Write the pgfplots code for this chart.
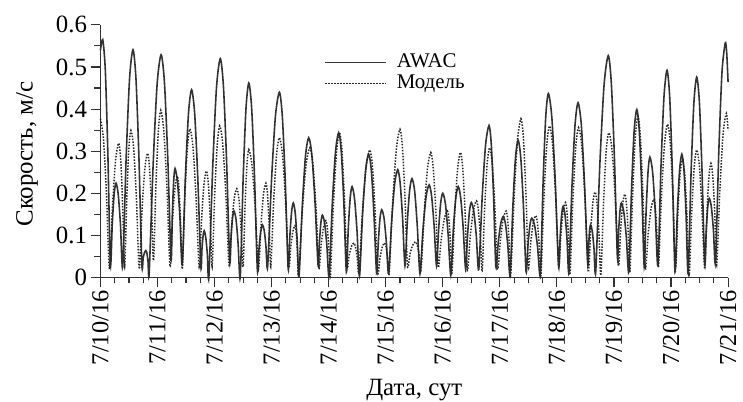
\documentclass[border=0pt]{standalone}
\usepackage{pgfplots}
\pgfplotsset{compat=1.18}
\usepackage{fontspec}
\setmainfont{Liberation Serif}
\definecolor{lc}{HTML}{333333}
\newcommand{\lf}{\fontsize{21}{23}\selectfont}
\begin{document}
\begin{tikzpicture}
\useasboundingbox (0,0) rectangle (747pt,404pt);
\begin{axis}[
  at={(101pt,125pt)}, anchor=south west,
  scale only axis, width=631pt, height=254pt,
  xmin=0, xmax=11, ymin=0, ymax=0.6,
  axis lines=left, axis line style={-, line width=1.3pt, color=lc},
  clip=false,
  /pgf/number format/assume math mode=true,
  xtick={0,1,2,3,4,5,6,7,8,9,10,11},
  xticklabels={7/10/16,7/11/16,7/12/16,7/13/16,7/14/16,7/15/16,7/16/16,7/17/16,7/18/16,7/19/16,7/20/16,7/21/16},
  minor x tick num=3,
  ytick={0,0.1,0.2,0.3,0.4,0.5,0.6},
  yticklabels={0,0.1,0.2,0.3,0.4,0.5,0.6},
  minor y tick num=1,
  tick align=outside,
  major tick length=10pt, minor tick length=6pt,
  every tick/.style={line width=1.1pt, color=lc},
  xticklabel style={font=\fontsize{24.5}{27}\selectfont, rotate=90, anchor=east, inner xsep=3pt, inner ysep=0.5pt},
  yticklabel style={font=\fontsize{25}{28}\selectfont},
  xlabel={Дата, сут},
  ylabel={Скорость, м/с},
  label style={font=\fontsize{25}{28}\selectfont},
  x label style={at={(axis description cs:0.5,-0.447)}, anchor=center},
  y label style={at={(axis description cs:-0.117,0.488)}, anchor=center, rotate=0},
  legend style={at={(axis description cs:0.352,0.895)}, anchor=north west, draw=none, fill=none,
    row sep=3pt,
    nodes={inner ysep=0pt, text height=14pt, text depth=4pt},
    /tikz/every odd column/.append style={column sep=8pt}},
  legend cell align=left,
  legend image code/.code={\draw[#1] (0pt,0pt) -- (61pt,0pt);},
]
\addplot[color=lc, line width=1.6pt, smooth, tension=0.45] table {
0 0.54
0.04 0.565
0.085 0.493
0.129 0.298
0.174 0.03
0.207 0.127
0.240 0.198
0.273 0.224
0.312 0.197
0.351 0.125
0.39 0.025
0.45 0.283
0.51 0.472
0.57 0.541
0.622 0.473
0.674 0.286
0.726 0.03
0.749 0.047
0.772 0.059
0.795 0.064
0.815 0.057
0.834 0.037
0.854 0.01
0.924 0.27
0.993 0.459
1.063 0.529
1.121 0.464
1.179 0.287
1.237 0.044
1.26 0.152
1.284 0.230
1.307 0.259
1.349 0.228
1.392 0.145
1.434 0.03
1.488 0.238
1.543 0.39
1.597 0.446
1.651 0.39
1.706 0.236
1.76 0.025
1.779 0.068
1.799 0.099
1.818 0.111
1.845 0.096
1.873 0.056
1.9 0.0
1.967 0.26
2.033 0.45
2.10 0.52
2.155 0.455
2.21 0.279
2.265 0.038
2.29 0.098
2.315 0.142
2.34 0.158
2.377 0.137
2.413 0.079
2.45 0.0
2.5 0.231
2.55 0.40
2.60 0.462
2.65 0.402
2.70 0.24
2.75 0.017
2.78 0.071
2.81 0.11
2.84 0.125
2.87 0.112
2.90 0.075
2.93 0.025
2.999 0.233
3.067 0.384
3.136 0.44
3.187 0.384
3.239 0.23
3.29 0.02
3.32 0.099
3.35 0.156
3.38 0.177
3.413 0.154
3.447 0.09
3.48 0.003
3.537 0.168
3.593 0.288
3.65 0.332
3.705 0.291
3.76 0.18
3.815 0.028
3.84 0.088
3.865 0.132
3.89 0.148
3.929 0.129
3.968 0.076
4.007 0.003
4.063 0.174
4.119 0.298
4.175 0.344
4.22 0.30
4.265 0.179
4.31 0.013
4.343 0.115
4.377 0.189
4.41 0.216
4.453 0.187
4.497 0.11
4.54 0.003
4.593 0.148
4.647 0.254
4.70 0.293
4.747 0.255
4.793 0.151
4.84 0.009
4.87 0.085
4.90 0.141
4.93 0.161
4.97 0.141
5.01 0.085
5.05 0.009
5.103 0.133
5.157 0.223
5.21 0.256
5.252 0.225
5.295 0.142
5.337 0.028
5.378 0.132
5.419 0.207
5.46 0.235
5.507 0.205
5.553 0.122
5.60 0.009
5.653 0.115
5.707 0.192
5.76 0.22
5.803 0.194
5.847 0.124
5.89 0.028
5.927 0.114
5.963 0.177
6.0 0.20
6.047 0.174
6.093 0.103
6.14 0.005
6.183 0.111
6.227 0.188
6.27 0.216
6.313 0.19
6.357 0.118
6.40 0.02
6.433 0.099
6.467 0.157
6.50 0.178
6.543 0.157
6.587 0.099
6.63 0.019
6.69 0.19
6.75 0.315
6.81 0.361
6.85 0.316
6.89 0.193
6.93 0.025
6.973 0.085
7.017 0.129
7.06 0.145
7.10 0.126
7.14 0.075
7.18 0.005
7.227 0.166
7.273 0.283
7.32 0.326
7.367 0.284
7.413 0.17
7.46 0.013
7.493 0.077
7.527 0.124
7.56 0.141
7.61 0.123
7.66 0.074
7.71 0.006
7.757 0.222
7.803 0.379
7.85 0.437
7.91 0.382
7.97 0.231
8.03 0.025
8.057 0.097
8.083 0.15
8.11 0.169
8.143 0.148
8.177 0.091
8.21 0.013
8.263 0.214
8.317 0.361
8.37 0.415
8.427 0.364
8.483 0.224
8.54 0.032
8.557 0.079
8.573 0.113
8.59 0.125
8.62 0.11
8.65 0.069
8.68 0.013
8.753 0.27
8.827 0.458
8.90 0.527
8.953 0.463
9.007 0.288
9.06 0.048
9.083 0.113
9.107 0.16
9.13 0.177
9.173 0.155
9.217 0.095
9.26 0.013
9.307 0.206
9.353 0.347
9.40 0.399
9.443 0.349
9.487 0.212
9.53 0.025
9.563 0.156
9.597 0.251
9.63 0.286
9.677 0.251
9.723 0.157
9.77 0.028
9.823 0.26
9.877 0.43
9.93 0.492
9.977 0.428
10.023 0.253
10.07 0.013
10.11 0.153
10.15 0.255
10.19 0.293
10.227 0.255
10.263 0.151
10.30 0.009
10.35 0.243
10.40 0.413
10.45 0.476
10.497 0.417
10.543 0.254
10.59 0.032
10.617 0.11
10.643 0.167
10.67 0.188
10.707 0.168
10.743 0.112
10.78 0.036
10.837 0.297
10.893 0.487
10.95 0.557
10.975 0.535
11.0 0.464
};
\addlegendentry{\lf AWAC}
\addplot[color=black!85, line width=1.5pt, dash pattern=on 1.5pt off 1.5pt, smooth, tension=0.45] table {
0 0.377
0.052 0.33
0.105 0.20
0.157 0.02
0.211 0.17
0.266 0.279
0.32 0.319
0.355 0.28
0.389 0.172
0.424 0.025
0.461 0.187
0.497 0.306
0.534 0.349
0.583 0.305
0.631 0.185
0.68 0.02
0.728 0.158
0.777 0.258
0.825 0.295
0.86 0.261
0.895 0.168
0.93 0.04
0.972 0.219
1.015 0.349
1.057 0.397
1.111 0.347
1.166 0.211
1.22 0.025
1.262 0.133
1.305 0.212
1.347 0.241
1.376 0.211
1.405 0.13
1.434 0.02
1.479 0.187
1.523 0.308
1.568 0.353
1.622 0.309
1.676 0.189
1.73 0.025
1.773 0.139
1.815 0.222
1.858 0.253
1.891 0.222
1.924 0.139
1.957 0.025
2.001 0.193
2.046 0.315
2.09 0.36
2.144 0.316
2.199 0.195
2.253 0.029
2.299 0.12
2.344 0.187
2.39 0.211
2.427 0.186
2.463 0.118
2.5 0.025
2.533 0.165
2.567 0.267
2.60 0.304
2.657 0.266
2.713 0.162
2.77 0.02
2.813 0.122
2.857 0.197
2.90 0.224
2.928 0.197
2.957 0.125
2.985 0.025
3.035 0.179
3.086 0.291
3.136 0.332
3.191 0.291
3.245 0.179
3.30 0.025
3.337 0.074
3.373 0.11
3.41 0.123
3.43 0.107
3.45 0.064
3.47 0.005
3.537 0.157
3.603 0.267
3.67 0.308
3.723 0.27
3.777 0.167
3.83 0.025
3.87 0.08
3.91 0.12
3.95 0.135
3.977 0.117
4.003 0.069
4.03 0.003
4.083 0.174
4.137 0.298
4.19 0.344
4.233 0.301
4.277 0.185
4.32 0.025
4.36 0.054
4.40 0.074
4.44 0.082
4.47 0.073
4.50 0.047
4.53 0.012
4.593 0.158
4.657 0.264
4.72 0.303
4.767 0.264
4.813 0.158
4.86 0.012
4.90 0.047
4.94 0.073
4.98 0.082
5.007 0.072
5.033 0.046
5.06 0.009
5.123 0.181
5.187 0.306
5.25 0.352
5.293 0.309
5.337 0.19
5.38 0.028
5.427 0.057
5.473 0.077
5.52 0.085
5.553 0.076
5.587 0.053
5.62 0.02
5.677 0.159
5.733 0.26
5.79 0.297
5.833 0.26
5.877 0.161
5.92 0.024
5.973 0.091
6.027 0.14
6.08 0.158
6.107 0.138
6.133 0.084
6.16 0.01
6.21 0.154
6.26 0.259
6.31 0.297
6.35 0.259
6.39 0.157
6.43 0.017
6.483 0.10
6.537 0.16
6.59 0.182
6.623 0.16
6.657 0.10
6.69 0.017
6.733 0.163
6.777 0.269
6.82 0.308
6.867 0.269
6.913 0.164
6.96 0.02
7.01 0.089
7.06 0.14
7.11 0.158
7.137 0.137
7.163 0.082
7.19 0.005
7.25 0.191
7.31 0.327
7.37 0.377
7.413 0.33
7.457 0.201
7.50 0.025
7.543 0.086
7.587 0.131
7.63 0.147
7.66 0.128
7.69 0.076
7.72 0.005
7.77 0.183
7.82 0.312
7.87 0.36
7.923 0.316
7.977 0.194
8.03 0.028
8.07 0.103
8.11 0.158
8.15 0.178
8.177 0.155
8.203 0.094
8.23 0.01
8.28 0.183
8.33 0.31
8.38 0.356
8.437 0.31
8.493 0.185
8.55 0.013
8.59 0.108
8.63 0.178
8.67 0.203
8.703 0.176
8.737 0.104
8.77 0.005
8.817 0.175
8.863 0.299
8.91 0.344
8.967 0.302
9.023 0.186
9.08 0.028
9.117 0.113
9.153 0.175
9.19 0.198
9.22 0.173
9.25 0.106
9.28 0.013
9.327 0.198
9.373 0.333
9.42 0.383
9.463 0.335
9.507 0.203
9.55 0.022
9.60 0.104
9.65 0.164
9.70 0.186
9.727 0.164
9.753 0.106
9.78 0.025
9.833 0.195
9.887 0.319
9.94 0.364
9.987 0.319
10.033 0.195
10.08 0.025
10.12 0.153
10.16 0.246
10.2 0.28
10.24 0.244
10.28 0.145
10.32 0.01
10.363 0.157
10.407 0.264
10.45 0.303
10.497 0.265
10.543 0.162
10.59 0.02
10.627 0.146
10.663 0.237
10.70 0.271
10.733 0.239
10.767 0.151
10.80 0.03
10.857 0.21
10.913 0.342
10.97 0.39
11.0 0.35
};
\addlegendentry{\lf Модель}
\end{axis}
\end{tikzpicture}
\end{document}
